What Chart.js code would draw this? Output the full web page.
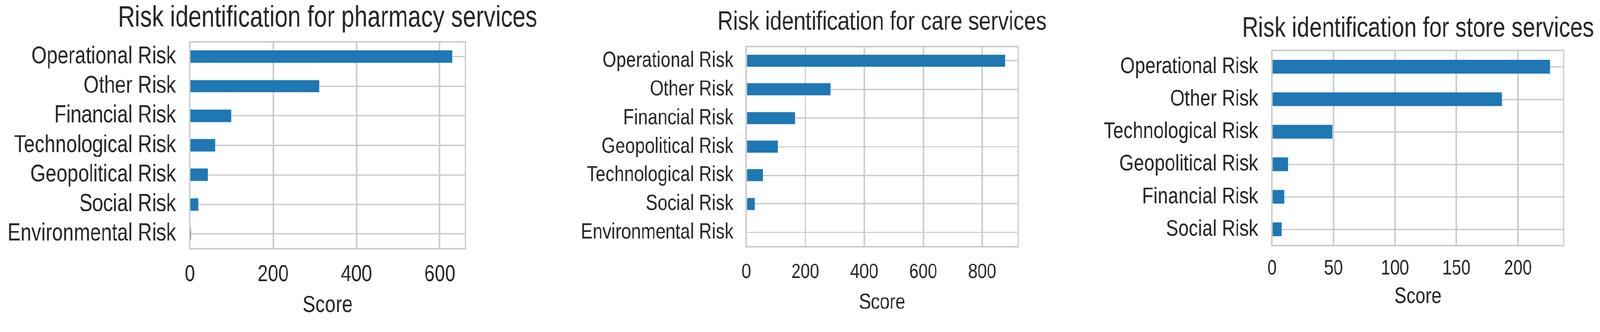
<!DOCTYPE html>
<html>
<head>
<meta charset="utf-8">
<title>Risk identification</title>
<script src="https://cdn.jsdelivr.net/npm/chart.js@4.4.1/dist/chart.umd.min.js"></script>
<style>
  html, body { margin: 0; padding: 0; background: #fff; overflow: hidden; }
  #stage { position: absolute; left: 0; top: 0; width: 4244px; height: 849px; overflow: hidden; transform-origin: 0 0; }
  #stage canvas { position: absolute; top: 0; transform-origin: 0 0; }
</style>
</head>
<body>
<div id="stage">
  <canvas id="pharmacy"></canvas>
  <canvas id="care"></canvas>
  <canvas id="store"></canvas>
</div>
<script>
// Values
const pharmacyLabels = ['Operational Risk', 'Other Risk', 'Financial Risk', 'Technological Risk', 'Geopolitical Risk', 'Social Risk', 'Environmental Risk'];
const pharmacyScores = [630, 311, 99, 61, 43, 20, 3];

const careLabels = ['Operational Risk', 'Other Risk', 'Financial Risk', 'Geopolitical Risk', 'Technological Risk', 'Social Risk', 'Environmental Risk'];
const careScores = [878, 286, 166, 107, 57, 29, 0];

const storeLabels = ['Operational Risk', 'Other Risk', 'Technological Risk', 'Geopolitical Risk', 'Financial Risk', 'Social Risk'];
const storeScores = [226, 187, 49, 13, 10, 8];

const tickSteps = { pharmacy: 200, care: 200, store: 50 };

const PAGE_W = 4244;
const HEIGHT = 849;
const SQUEEZE = 0.81;   // the reference text is narrow, so each panel is squeezed horizontally
const FONT = "'Liberation Sans', Arial, sans-serif";
const TEXT = '#262626';
const GRID = '#cccccc';
const BAR = '#1f77b4';

// keep the 4244x849 layout whatever the real viewport width is (uniform scale)
const stage = document.getElementById('stage');
const fit = (window.innerWidth || PAGE_W) / PAGE_W;
if (Math.abs(fit - 1) > 0.002) {
  stage.style.transform = `scale(${fit})`;
}

// four spines like matplotlib's whitegrid style
const framePlugin = {
  id: 'frame',
  afterDatasetsDraw(chart) {
    const { ctx, chartArea: a } = chart;
    ctx.save();
    ctx.strokeStyle = GRID;
    ctx.lineWidth = 4;
    ctx.strokeRect(a.left, a.top, a.right - a.left, a.bottom - a.top);
    ctx.restore();
  }
};

// the canvas is centred on the plot so the full-width title sits over the plot
function drawPanel(id, title, labels, scores, step, box) {
  const canvas = document.getElementById(id);
  const center = (box.plotLeft + box.plotRight) / 2;
  const left = center - box.half;
  const width = Math.round(2 * box.half / SQUEEZE);
  const u = (x) => (x - left) / SQUEEZE;   // screen px -> canvas px

  canvas.width = width;
  canvas.height = HEIGHT;
  canvas.style.left = left + 'px';
  canvas.style.width = width + 'px';
  canvas.style.height = HEIGHT + 'px';
  canvas.style.transform = `scaleX(${SQUEEZE})`;

  return new Chart(canvas, {
    type: 'bar',
    data: {
      labels: labels,
      datasets: [{
        data: scores,
        backgroundColor: BAR,
        barPercentage: 0.42,
        categoryPercentage: 1
      }]
    },
    options: {
      indexAxis: 'y',
      responsive: false,
      animation: false,
      events: [],
      devicePixelRatio: 1,
      layout: { padding: 0 },
      plugins: {
        legend: { display: false },
        tooltip: { enabled: false },
        title: {
          display: true,
          text: title,
          color: TEXT,
          font: { family: FONT, size: box.titleSize, weight: 'normal', lineHeight: 1 },
          padding: {
            top: box.titleY - box.titleSize / 2,
            bottom: box.plotTop - box.titleY - box.titleSize / 2
          }
        }
      },
      scales: {
        x: {
          min: 0,
          max: Math.max(...scores) * 1.05,
          border: { display: false },
          grid: { color: GRID, lineWidth: 5, drawTicks: false },
          ticks: {
            stepSize: step,
            includeBounds: false,
            autoSkip: false,
            maxRotation: 0,
            color: TEXT,
            font: { family: FONT, size: box.tickSize, lineHeight: 1 },
            padding: box.tickY - box.plotBottom - box.tickSize / 2
          },
          title: {
            display: true,
            text: 'Score',
            color: TEXT,
            font: { family: FONT, size: box.scoreSize, lineHeight: 1 },
            padding: { top: 0, bottom: HEIGHT - box.scoreY - box.scoreSize / 2 }
          },
          afterFit: (s) => { s.height = HEIGHT - box.plotBottom; }
        },
        y: {
          border: { display: false },
          grid: { color: GRID, lineWidth: 3.5, drawTicks: false, offset: false },
          ticks: {
            autoSkip: false,
            color: TEXT,
            font: { family: FONT, size: box.labelSize },
            padding: box.labelGap / SQUEEZE
          },
          afterFit: (s) => { s.width = u(box.plotLeft); }
        },
        // empty right-hand box that balances the label column
        spacer: {
          type: 'linear',
          position: 'right',
          axis: 'y',
          border: { display: false },
          grid: { display: false },
          ticks: { display: false },
          afterFit: (s) => { s.width = width - u(box.plotRight); }
        }
      }
    },
    plugins: [framePlugin]
  });
}

drawPanel('pharmacy', 'Risk identification for pharmacy services', pharmacyLabels, pharmacyScores, tickSteps.pharmacy, {
  half: 868, plotLeft: 503, plotRight: 1234, plotTop: 111, plotBottom: 659,
  labelGap: 37, labelSize: 64, tickSize: 61, scoreSize: 63, titleSize: 77,
  titleY: 48.5, tickY: 728, scoreY: 810
});

drawPanel('care', 'Risk identification for care services', careLabels, careScores, tickSteps.care, {
  half: 810, plotLeft: 1979, plotRight: 2700, plotTop: 123, plotBottom: 654,
  labelGap: 34, labelSize: 58, tickSize: 55, scoreSize: 58, titleSize: 70,
  titleY: 60, tickY: 722, scoreY: 802
});

drawPanel('store', 'Risk identification for store services', storeLabels, storeScores, tickSteps.store, {
  half: 850, plotLeft: 3374, plotRight: 4148, plotTop: 134, plotBottom: 651,
  labelGap: 37, labelSize: 61, tickSize: 55, scoreSize: 59, titleSize: 73.5,
  titleY: 76.5, tickY: 712, scoreY: 787
});
</script>
</body>
</html>
